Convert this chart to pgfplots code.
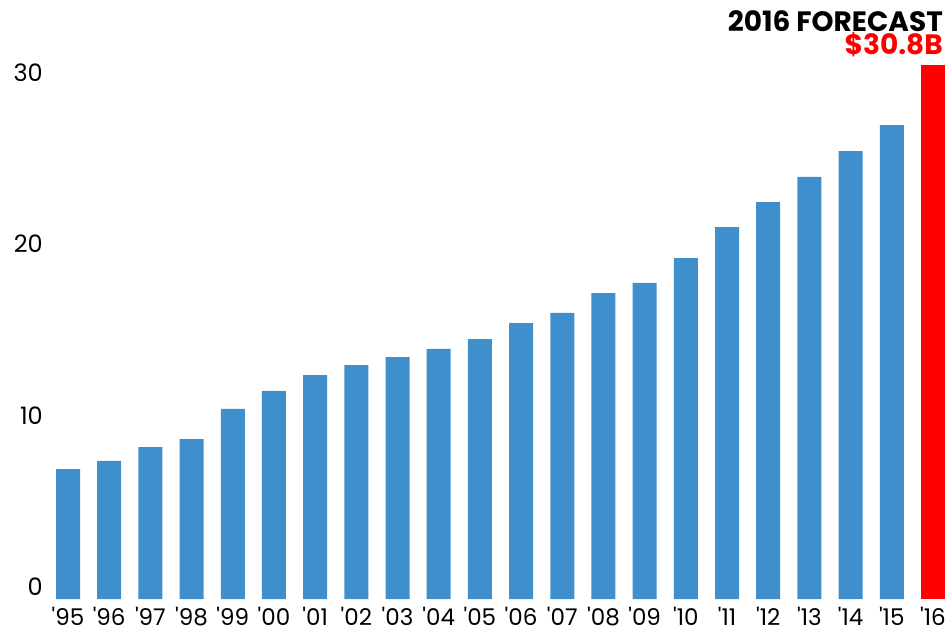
\documentclass[border=0pt]{standalone}
\usepackage{pgfplots}
\pgfplotsset{compat=1.18}
\usepackage{fontspec}
\setmainfont{Poppins}
\newfontfamily\pop{Poppins}
\definecolor{barblue}{RGB}{64,143,205}
\definecolor{barred}{RGB}{255,0,0}
\begin{document}
\begin{tikzpicture}[x=1pt,y=1pt]
\path[use as bounding box] (0,-34) rectangle (952,599);
\begin{axis}[at={(0,0)}, anchor=south west, scale only axis,
  width=952pt, height=599pt,
  xmin=-1.651, xmax=21.462, ymin=0, ymax=34.93,
  axis line style={draw=none}, tick style={draw=none},
  clip=false,
  xtick={0,...,21},
  xticklabels={'95,'96,'97,'98,'99,'00,'01,'02,'03,'04,'05,'06,'07,'08,'09,'10,'11,'12,'13,'14,'15,'16},
  xticklabel style={font=\pop\fontsize{23}{23}\selectfont, anchor=north, inner sep=0pt, yshift=-8pt},
  ytick={0,10,20,30},
  yticklabels={0,10,20,30},
  yticklabel style={font=\pop\fontsize{24}{24}\selectfont, anchor=east, inner sep=0pt, xshift=43pt, yshift=12pt},
]
\addplot[ybar, bar shift=0pt, bar width=24pt, fill=barblue, draw=none] coordinates {
(0,7.58) (1,8.05) (2,8.86) (3,9.33) (4,11.08) (5,12.13) (6,13.06) (7,13.64)
(8,14.11) (9,14.58) (10,15.16) (11,16.09) (12,16.68) (13,17.84) (14,18.43)
(15,19.88) (16,21.69) (17,23.15) (18,24.61) (19,26.12) (20,27.64)};
\addplot[ybar, bar shift=0pt, bar width=24pt, fill=barred, draw=none] coordinates {(21,31.14)};
\end{axis}
\node[anchor=base east, inner sep=0pt, font=\pop\bfseries\fontsize{28}{28}\selectfont] at (943,567) {2016 FORECAST};
\node[anchor=base east, inner sep=0pt, text=barred, font=\pop\bfseries\fontsize{28}{28}\selectfont] at (943,544) {\$30.8B};
\end{tikzpicture}
\end{document}
